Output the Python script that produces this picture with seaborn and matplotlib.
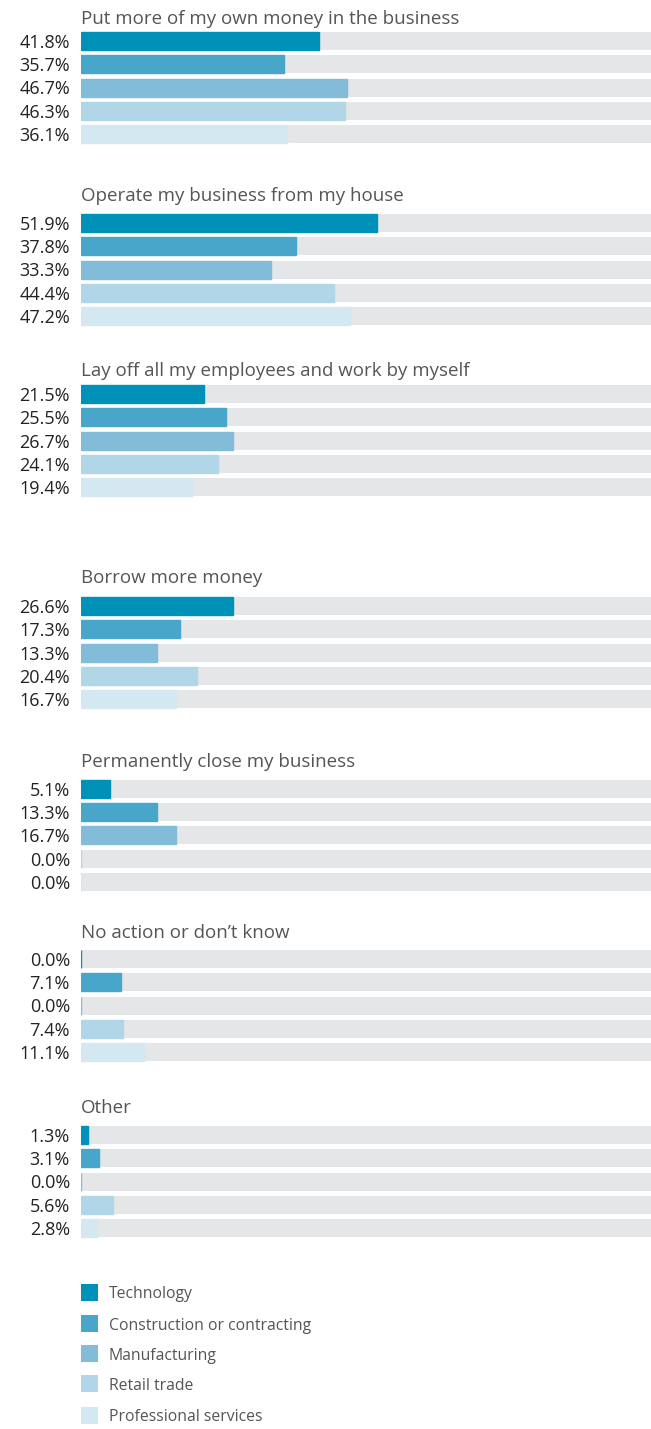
import matplotlib
matplotlib.use("Agg")
import matplotlib.pyplot as plt
from matplotlib.patches import Rectangle
import pandas as pd
import seaborn as sns

# Industries and their colours
industries = ["Technology", "Construction or contracting", "Manufacturing",
              "Retail trade", "Professional services"]
palette = ["#0091b9", "#48a6cb", "#83bcd9", "#b1d6e7", "#d4e8f1"]
track_color = "#e5e6e8"

# Survey answers (percent of respondents, per industry)
actions = [
    "Put more of my own money in the business",
    "Operate my business from my house",
    "Lay off all my employees and work by myself",
    "Borrow more money",
    "Permanently close my business",
    "No action or don\u2019t know",
    "Other",
]
own_money = [41.8, 35.7, 46.7, 46.3, 36.1]
from_house = [51.9, 37.8, 33.3, 44.4, 47.2]
lay_off = [21.5, 25.5, 26.7, 24.1, 19.4]
borrow = [26.6, 17.3, 13.3, 20.4, 16.7]
close = [5.1, 13.3, 16.7, 0.0, 0.0]
no_action = [0.0, 7.1, 0.0, 7.4, 11.1]
other = [1.3, 3.1, 0.0, 5.6, 2.8]
series = [own_money, from_house, lay_off, borrow, close, no_action, other]

# Page layout (pixels from the top of the figure)
W, H, DPI = 651, 1429, 100
LEFT, TRACK_W = 81, 570
PITCH, BAR_PX = 23.25, 18
bar_tops = [32, 214, 385, 597, 780, 950, 1126]
title_baselines = [24, 201, 376, 583, 767, 938, 1113]
legend_centers = [1292.5, 1323.5, 1353.5, 1383.5, 1415]

sns.set_theme(style="white")
plt.rcParams["font.family"] = ["Open Sans", "DejaVu Sans"]

fig = plt.figure(figsize=(W / DPI, H / DPI), dpi=DPI)
width = BAR_PX / PITCH
ax_h = 5 * PITCH
pad = (0.5 - width / 2) * PITCH

for title, values, top, base in zip(actions, series, bar_tops, title_baselines):
    ax_top = top - pad
    ax = fig.add_axes([LEFT / W, 1 - (ax_top + ax_h) / H, TRACK_W / W, ax_h / H])
    df = pd.DataFrame({"industry": industries, "value": values})
    # grey 100% track behind each bar
    sns.barplot(x=[100] * 5, y=industries, color=track_color, saturation=1,
                width=width, ax=ax, linewidth=0)
    n_track = len(ax.patches)
    sns.barplot(data=df, x="value", y="industry", hue="industry",
                palette=palette, saturation=1, width=width, legend=False,
                dodge=False, ax=ax)
    # thin matching edge keeps 0% bars visible as a sliver
    for p in ax.patches[n_track:]:
        p.set_edgecolor(p.get_facecolor())
        p.set_linewidth(1.0)
    ax.set_xlim(0, 100)
    ax.set_ylim(4.5, -0.5)
    ax.set_axis_off()
    for i, v in enumerate(values):
        ax.annotate(f"{v:.1f}%", xy=(0, i), xycoords=("axes fraction", "data"),
                    xytext=(-11, 0), textcoords="offset pixels",
                    ha="right", va="center_baseline", fontsize=13, color="#222222")
    fig.text(LEFT / W, 1 - base / H, title, ha="left", va="baseline",
             fontsize=13.5, color="#555555")

# Legend
for name, col, c in zip(industries, palette, legend_centers):
    fig.add_artist(Rectangle((LEFT / W, 1 - (c + 8.5) / H), 17 / W, 17 / H,
                             transform=fig.transFigure, facecolor=col,
                             edgecolor="none"))
    fig.text(109 / W, 1 - c / H, name, ha="left", va="center_baseline",
             fontsize=11.3, color="#555555")

fig.savefig("out.png", dpi=DPI)
